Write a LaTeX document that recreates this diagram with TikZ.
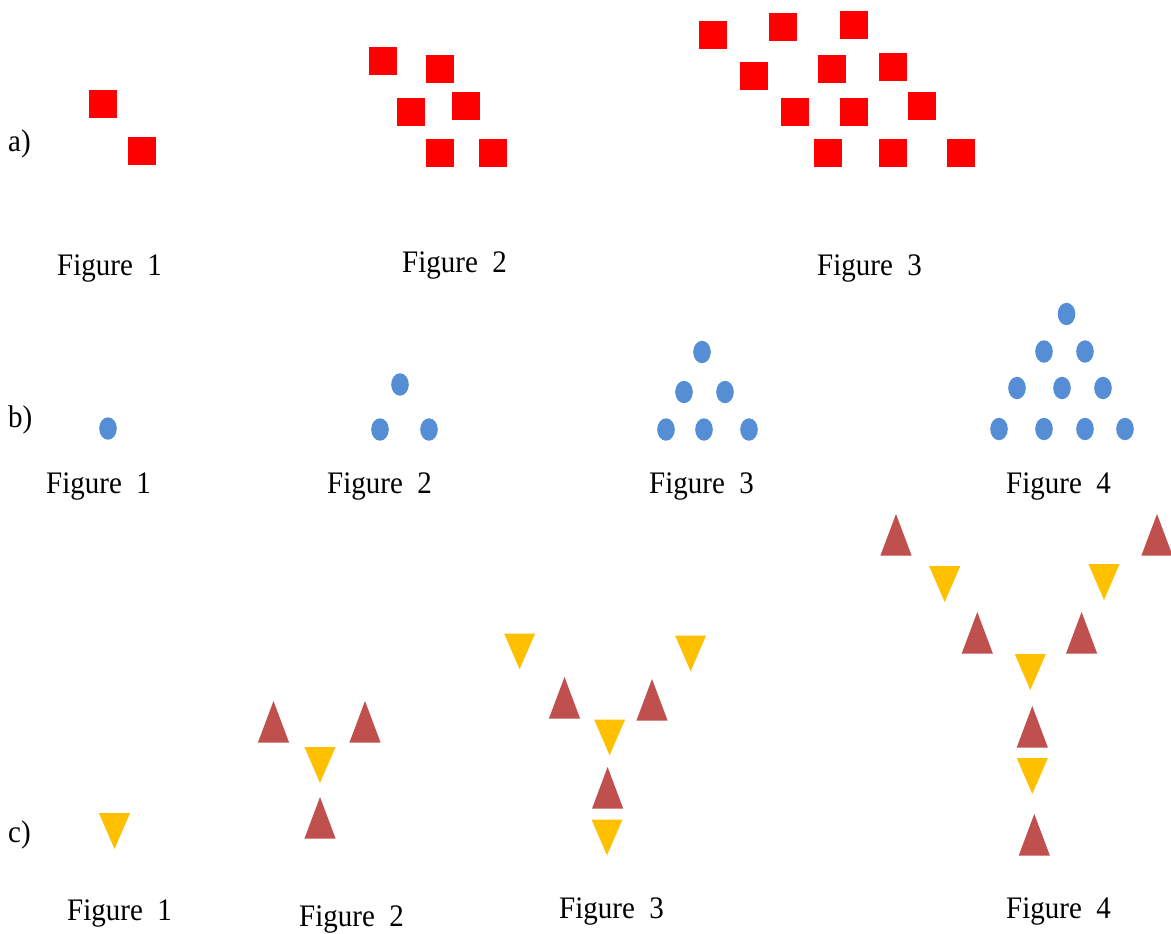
\documentclass[tikz,border=0pt]{standalone}
\usepackage{fontspec}
\setmainfont{Liberation Serif}
\definecolor{sqred}{RGB}{255,0,0}
\definecolor{bblue}{RGB}{85,142,213}
\definecolor{tred}{RGB}{192,80,77}
\definecolor{tyel}{RGB}{255,192,0}
\newcommand\sqr[2]{\fill[sqred] (#1,#2) rectangle ++(28,28);}
\newcommand\bdot[2]{\fill[bblue] (#1,#2) ellipse [x radius=8.8pt, y radius=11.2pt];}
\newcommand\utri[2]{\fill[tred] (#1,#2) -- ++(15.6,41.6) -- ++(-31.2,0) -- cycle;}
\newcommand\dtri[2]{\fill[tyel] (#1,#2) -- ++(-15.5,-35.8) -- ++(31,0) -- cycle;}
\tikzset{lbl/.style={anchor=base west, inner sep=0pt, font=\fontsize{29}{29}\selectfont}}
\newcommand\fig[1]{\scalebox{1}[1.08]{Figure\ \ #1}}
\begin{document}
\begin{tikzpicture}[x=1pt,y=-1pt]
\useasboundingbox (0,0) rectangle (1171,934);
\fill[white] (0,0) rectangle (1171,934);
% row a
\node[lbl] (la) at (8,151) {\scalebox{1}[1.08]{a)}};
\sqr{89}{90} \sqr{128}{137}
\sqr{369}{47} \sqr{426}{55} \sqr{397}{98} \sqr{452}{92} \sqr{426}{139} \sqr{479}{139}
\sqr{699}{21} \sqr{769}{13} \sqr{840}{11}
\sqr{740}{62} \sqr{818}{55} \sqr{879}{53}
\sqr{781}{98} \sqr{840}{98} \sqr{908}{92}
\sqr{814}{139} \sqr{879}{139} \sqr{947}{139}
\node[lbl] (a1) at (57,275) {\fig{1}};
\node[lbl] (a2) at (402,272.5) {\fig{2}};
\node[lbl] (a3) at (817,275) {\fig{3}};
% row b
\node[lbl] (lb) at (8,427) {\scalebox{1}[1.08]{b)}};
\bdot{108}{428.5}
\bdot{400}{384.5} \bdot{380}{429.5} \bdot{429}{429.5}
\bdot{702}{352} \bdot{684}{392} \bdot{725}{392}
\bdot{666}{429.5} \bdot{704}{429.5} \bdot{749}{429.5}
\bdot{1066.5}{314}
\bdot{1044}{351.5} \bdot{1085}{351.5}
\bdot{1017}{388} \bdot{1062}{388} \bdot{1103}{388}
\bdot{999}{429} \bdot{1044}{429} \bdot{1085}{429} \bdot{1125}{429}
\node[lbl] (b1) at (46,493) {\fig{1}};
\node[lbl] (b2) at (327,493) {\fig{2}};
\node[lbl] (b3) at (649,493) {\fig{3}};
\node[lbl] (b4) at (1006,493) {\fig{4}};
% row c
\node[lbl] (lc) at (8,842) {\scalebox{1}[1.08]{c)}};
\dtri{114.5}{849}
\utri{273.5}{701} \utri{365}{701} \dtri{320}{783} \utri{320}{797}
\dtri{519.6}{669.3} \dtri{690.6}{671.3}
\utri{564.5}{677} \utri{652}{679}
\dtri{609.6}{755.3} \utri{607.6}{767} \dtri{607}{855.3}
\utri{896}{514} \utri{1157}{514}
\dtri{944.7}{602} \dtri{1104}{600}
\utri{977.3}{612} \utri{1081.6}{612}
\dtri{1030.3}{690} \utri{1032.3}{706} \dtri{1032.3}{794} \utri{1034.3}{814}
\node[lbl] (c1) at (67,920.7) {\fig{1}};
\node[lbl] (c2) at (299,926.7) {\fig{2}};
\node[lbl] (c3) at (559,918) {\fig{3}};
\node[lbl] (c4) at (1006,918) {\fig{4}};
\end{tikzpicture}
\end{document}
